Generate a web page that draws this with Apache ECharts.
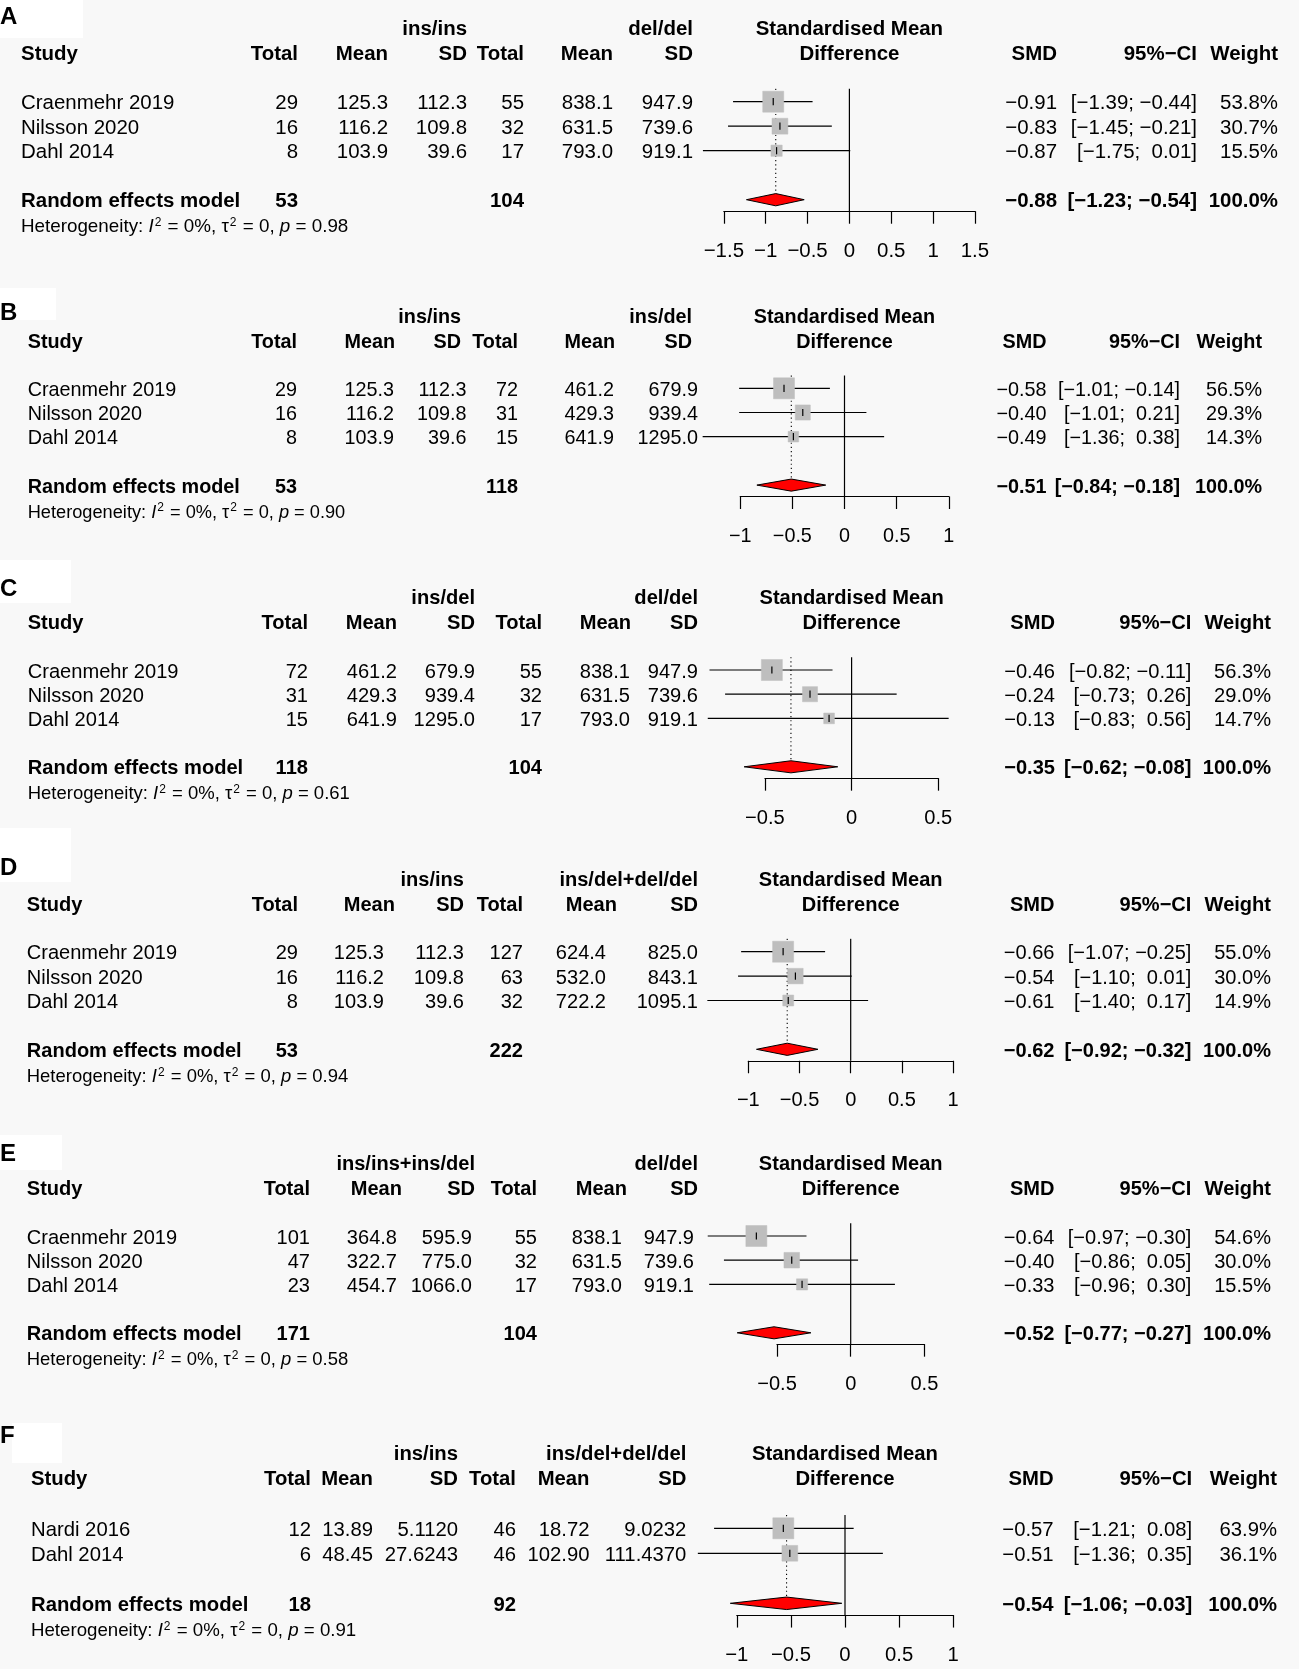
<!DOCTYPE html>
<html>
<head>
<meta charset="utf-8">
<script src="https://cdn.jsdelivr.net/npm/echarts@6/dist/echarts.min.js"></script>
<style>
html,body{margin:0;padding:0;background:#f8f8f8;}
#c{width:1299px;height:1669px;}
</style>
</head>
<body>
<div id="c"></div>
<script>
// ---------------- DATA ----------------
const studies3 = ['Craenmehr 2019', 'Nilsson 2020', 'Dahl 2014'];
const studiesF = ['Nardi 2016', 'Dahl 2014'];

// Panel A
const aExpLabel = 'ins/ins', aCtlLabel = 'del/del';
const aExpTotal = [29, 16, 8], aExpMean = ['125.3', '116.2', '103.9'], aExpSD = ['112.3', '109.8', '39.6'];
const aCtlTotal = [55, 32, 17], aCtlMean = ['838.1', '631.5', '793.0'], aCtlSD = ['947.9', '739.6', '919.1'];
const aSMD = [-0.91, -0.83, -0.87], aLower = [-1.39, -1.45, -1.75], aUpper = [-0.44, -0.21, 0.01];
const aWeight = [53.8, 30.7, 15.5];
const aPooled = [-0.88, -1.23, -0.54], aPooledN = [53, 104], aHetP = '0.98';
const aTicks = [-1.5, -1, -0.5, 0, 0.5, 1, 1.5];

// Panel B
const bExpLabel = 'ins/ins', bCtlLabel = 'ins/del';
const bExpTotal = [29, 16, 8], bExpMean = ['125.3', '116.2', '103.9'], bExpSD = ['112.3', '109.8', '39.6'];
const bCtlTotal = [72, 31, 15], bCtlMean = ['461.2', '429.3', '641.9'], bCtlSD = ['679.9', '939.4', '1295.0'];
const bSMD = [-0.58, -0.40, -0.49], bLower = [-1.01, -1.01, -1.36], bUpper = [-0.14, 0.21, 0.38];
const bWeight = [56.5, 29.3, 14.3];
const bPooled = [-0.51, -0.84, -0.18], bPooledN = [53, 118], bHetP = '0.90';
const bTicks = [-1, -0.5, 0, 0.5, 1];

// Panel C
const cExpLabel = 'ins/del', cCtlLabel = 'del/del';
const cExpTotal = [72, 31, 15], cExpMean = ['461.2', '429.3', '641.9'], cExpSD = ['679.9', '939.4', '1295.0'];
const cCtlTotal = [55, 32, 17], cCtlMean = ['838.1', '631.5', '793.0'], cCtlSD = ['947.9', '739.6', '919.1'];
const cSMD = [-0.46, -0.24, -0.13], cLower = [-0.82, -0.73, -0.83], cUpper = [-0.11, 0.26, 0.56];
const cWeight = [56.3, 29.0, 14.7];
const cPooled = [-0.35, -0.62, -0.08], cPooledN = [118, 104], cHetP = '0.61';
const cTicks = [-0.5, 0, 0.5];

// Panel D
const dExpLabel = 'ins/ins', dCtlLabel = 'ins/del+del/del';
const dExpTotal = [29, 16, 8], dExpMean = ['125.3', '116.2', '103.9'], dExpSD = ['112.3', '109.8', '39.6'];
const dCtlTotal = [127, 63, 32], dCtlMean = ['624.4', '532.0', '722.2'], dCtlSD = ['825.0', '843.1', '1095.1'];
const dSMD = [-0.66, -0.54, -0.61], dLower = [-1.07, -1.10, -1.40], dUpper = [-0.25, 0.01, 0.17];
const dWeight = [55.0, 30.0, 14.9];
const dPooled = [-0.62, -0.92, -0.32], dPooledN = [53, 222], dHetP = '0.94';
const dTicks = [-1, -0.5, 0, 0.5, 1];

// Panel E
const eExpLabel = 'ins/ins+ins/del', eCtlLabel = 'del/del';
const eExpTotal = [101, 47, 23], eExpMean = ['364.8', '322.7', '454.7'], eExpSD = ['595.9', '775.0', '1066.0'];
const eCtlTotal = [55, 32, 17], eCtlMean = ['838.1', '631.5', '793.0'], eCtlSD = ['947.9', '739.6', '919.1'];
const eSMD = [-0.64, -0.40, -0.33], eLower = [-0.97, -0.86, -0.96], eUpper = [-0.30, 0.05, 0.30];
const eWeight = [54.6, 30.0, 15.5];
const ePooled = [-0.52, -0.77, -0.27], ePooledN = [171, 104], eHetP = '0.58';
const eTicks = [-0.5, 0, 0.5];

// Panel F
const fExpLabel = 'ins/ins', fCtlLabel = 'ins/del+del/del';
const fExpTotal = [12, 6], fExpMean = ['13.89', '48.45'], fExpSD = ['5.1120', '27.6243'];
const fCtlTotal = [46, 46], fCtlMean = ['18.72', '102.90'], fCtlSD = ['9.0232', '111.4370'];
const fSMD = [-0.57, -0.51], fLower = [-1.21, -1.36], fUpper = [0.08, 0.35];
const fWeight = [63.9, 36.1];
const fPooled = [-0.54, -1.06, -0.03], fPooledN = [18, 92], fHetP = '0.91';
const fTicks = [-1, -0.5, 0, 0.5, 1];

const panels = [
  {letter:'A', studies:studies3, expLabel:aExpLabel, ctlLabel:aCtlLabel, expTotal:aExpTotal, expMean:aExpMean, expSD:aExpSD, ctlTotal:aCtlTotal, ctlMean:aCtlMean, ctlSD:aCtlSD, smd:aSMD, lower:aLower, upper:aUpper, weight:aWeight, pooled:aPooled, pooledN:aPooledN, hetP:aHetP, ticks:aTicks},
  {letter:'B', studies:studies3, expLabel:bExpLabel, ctlLabel:bCtlLabel, expTotal:bExpTotal, expMean:bExpMean, expSD:bExpSD, ctlTotal:bCtlTotal, ctlMean:bCtlMean, ctlSD:bCtlSD, smd:bSMD, lower:bLower, upper:bUpper, weight:bWeight, pooled:bPooled, pooledN:bPooledN, hetP:bHetP, ticks:bTicks},
  {letter:'C', studies:studies3, expLabel:cExpLabel, ctlLabel:cCtlLabel, expTotal:cExpTotal, expMean:cExpMean, expSD:cExpSD, ctlTotal:cCtlTotal, ctlMean:cCtlMean, ctlSD:cCtlSD, smd:cSMD, lower:cLower, upper:cUpper, weight:cWeight, pooled:cPooled, pooledN:cPooledN, hetP:cHetP, ticks:cTicks},
  {letter:'D', studies:studies3, expLabel:dExpLabel, ctlLabel:dCtlLabel, expTotal:dExpTotal, expMean:dExpMean, expSD:dExpSD, ctlTotal:dCtlTotal, ctlMean:dCtlMean, ctlSD:dCtlSD, smd:dSMD, lower:dLower, upper:dUpper, weight:dWeight, pooled:dPooled, pooledN:dPooledN, hetP:dHetP, ticks:dTicks},
  {letter:'E', studies:studies3, expLabel:eExpLabel, ctlLabel:eCtlLabel, expTotal:eExpTotal, expMean:eExpMean, expSD:eExpSD, ctlTotal:eCtlTotal, ctlMean:eCtlMean, ctlSD:eCtlSD, smd:eSMD, lower:eLower, upper:eUpper, weight:eWeight, pooled:ePooled, pooledN:ePooledN, hetP:eHetP, ticks:eTicks},
  {letter:'F', studies:studiesF, expLabel:fExpLabel, ctlLabel:fCtlLabel, expTotal:fExpTotal, expMean:fExpMean, expSD:fExpSD, ctlTotal:fCtlTotal, ctlMean:fCtlMean, ctlSD:fCtlSD, smd:fSMD, lower:fLower, upper:fUpper, weight:fWeight, pooled:fPooled, pooledN:fPooledN, hetP:fHetP, ticks:fTicks}
];

// ---------------- LAYOUT (positions only) ----------------
const layout = [
  {fs:20.45, h2:52.3, row1:101.7, step:24.5, cols:[298,388,467,524,613,693], hcols:[298,388,467,524,613,693], studyX:21, smdX:1057, ciX:1197, wX:1278, zero:849.4, ppu:83.7, letterY:16, box:[0,0,83,38]},
  {fs:19.8, h2:341, row1:388.3, step:24.2, cols:[297,394,466.5,518,614,698], hcols:[297,395,461,518,615,692], studyX:27.7, smdX:1046.5, ciX:1180, wX:1262, zero:844.5, ppu:104.3, letterY:312, box:[0,288,56,32]},
  {fs:20.1, h2:621.7, row1:670, step:24.2, cols:[308,397,475,542,630,698], hcols:[308,397,475,542,631,698], studyX:27.7, smdX:1055, ciX:1191.4, wX:1271, zero:851.6, ppu:173.3, letterY:588.5, box:[0,560,71,43]},
  {fs:20.05, h2:903.3, row1:951.7, step:24.4, cols:[298,384,464,523,606,698], hcols:[298,395,464,523,617,698], studyX:26.8, smdX:1054.5, ciX:1191.4, wX:1271, zero:850.7, ppu:102.4, letterY:867, box:[0,828,71,54]},
  {fs:20.05, h2:1187.7, row1:1236, step:24.2, cols:[310,397,472,537,622,694], hcols:[310,402,475,537,627,698], studyX:26.8, smdX:1054.5, ciX:1191.4, wX:1271, zero:850.7, ppu:147.4, letterY:1153.5, box:[0,1135,62,35]},
  {fs:20.3, h2:1477.7, row1:1528.3, step:25, cols:[311,373,458,516,589.5,686.4], hcols:[311,373,458,516,589.5,686.4], studyX:31, smdX:1053.6, ciX:1192.2, wX:1277, zero:845, ppu:108.2, letterY:1435, box:[12,1423,50,40]}
];

const FONT = '"Liberation Sans", Arial, Helvetica, sans-serif';
const MINUS = '\u2212';
const DY = 2; // visual baseline correction for text

function fmt2(v){ return (v < 0 ? MINUS : '') + Math.abs(v).toFixed(2); }
function pad2(v){ return v < 0 ? fmt2(v) : ' ' + fmt2(v); }
function ciText(lo, hi){ return '[' + pad2(lo) + '; ' + pad2(hi) + ']'; }
function tickFmt(v){ const r = Math.round(v * 10) / 10; return (r < 0 ? MINUS : '') + String(Math.abs(r)); }

const grids = [], xAxes = [], yAxes = [], series = [], graphics = [];

function txt(x, y, s, align, bold, size){
  const f = (bold ? 'bold ' : '') + size + 'px ' + FONT;
  graphics.push({type:'text', silent:true, z:10, style:{text:s, x:x, y:y, fill:'#000', font:f,
    align:align, verticalAlign:'middle', textAlign:align, textVerticalAlign:'middle'}});
}
function hetText(x, y, p, size){
  const s = '{n|Heterogeneity: }{i|I}{s|2}{n| = 0%, \u03c4}{s|2}{n| = 0, }{i|p}{n| = ' + p + '}';
  graphics.push({type:'text', silent:true, z:10, style:{text:s, x:x, y:y, fill:'#000',
    font: size + 'px ' + FONT, align:'left', verticalAlign:'middle', textAlign:'left', textVerticalAlign:'middle',
    rich:{
      n:{fontSize:size, fontFamily:FONT, fill:'#000'},
      i:{fontSize:size, fontFamily:FONT, fontStyle:'italic', fill:'#000'},
      s:{fontSize:12, fontFamily:FONT, fill:'#000', padding:[0,1,9,1]}
    }}});
}

panels.forEach(function(p, i){
  const L = layout[i];
  const FS = L.fs;
  const k = p.studies.length;
  const ymin = 0.47, ymax = k + 2.47;
  const xmin = p.ticks[0], xmax = p.ticks[p.ticks.length - 1];
  const reRow = k + 2;
  const wmax = Math.max.apply(null, p.weight);

  grids.push({left: L.zero + xmin * L.ppu, top: L.row1 - (1 - ymin) * L.step,
    width: (xmax - xmin) * L.ppu, height: (ymax - ymin) * L.step, containLabel:false, outerBoundsMode:'none'});
  xAxes.push({gridIndex:i, type:'value', min:xmin, max:xmax, interval:0.5, position:'bottom',
    axisLine:{show:true, onZero:false, lineStyle:{color:'#000', width:1.2}},
    axisTick:{show:true, inside:false, length:12.5, lineStyle:{color:'#000', width:1.2}},
    axisLabel:{show:true, margin:30, color:'#000', fontSize:FS, fontFamily:FONT, showMinLabel:true, showMaxLabel:true, formatter:tickFmt, hideOverlap:false},
    splitLine:{show:false}});
  yAxes.push({gridIndex:i, type:'value', min:ymin, max:ymax, inverse:true, show:false, splitLine:{show:false}});

  // line of no effect
  series.push({type:'line', xAxisIndex:i, yAxisIndex:i, data:[[0, ymin], [0, ymax]], symbol:'none', silent:true, z:1,
    lineStyle:{color:'#000', width:1.2}});
  // dotted line at pooled estimate
  series.push({type:'line', xAxisIndex:i, yAxisIndex:i, data:[[p.pooled[0], ymin], [p.pooled[0], reRow - 0.25]], symbol:'none', silent:true, z:1,
    lineStyle:{color:'#000', width:1.1, type:[1.2, 3]}});
  // study estimates
  series.push({type:'custom', xAxisIndex:i, yAxisIndex:i, silent:true, z:2, clip:false,
    data: p.studies.map(function(s, j){ return [p.smd[j], j + 1, p.lower[j], p.upper[j], p.weight[j]]; }),
    renderItem: function(params, api){
      const est = api.value(0), row = api.value(1), lo = api.value(2), hi = api.value(3), w = api.value(4);
      const pL = api.coord([lo, row]), pH = api.coord([hi, row]), pE = api.coord([est, row]);
      const sz = 21 * Math.sqrt(w / wmax);
      return {type:'group', children:[
        {type:'line', shape:{x1:pL[0], y1:pL[1], x2:pH[0], y2:pH[1]}, style:{stroke:'#000', lineWidth:1.2}},
        {type:'rect', shape:{x:pE[0] - sz / 2, y:pE[1] - sz / 2, width:sz, height:sz}, style:{fill:'#bebebe', stroke:'#bebebe', lineWidth:0.5}},
        {type:'line', shape:{x1:pE[0], y1:pE[1] - 3.6, x2:pE[0], y2:pE[1] + 3.6}, style:{stroke:'#000', lineWidth:1.2}}
      ]};
    }});
  // pooled diamond
  series.push({type:'custom', xAxisIndex:i, yAxisIndex:i, silent:true, z:3, clip:false,
    data:[[p.pooled[0], reRow, p.pooled[1], p.pooled[2]]],
    renderItem: function(params, api){
      const est = api.value(0), row = api.value(1), lo = api.value(2), hi = api.value(3);
      const pts = [api.coord([lo, row]), api.coord([est, row - 0.25]), api.coord([hi, row]), api.coord([est, row + 0.25])];
      return {type:'polygon', shape:{points:pts}, style:{fill:'#ff0000', stroke:'#000', lineWidth:1}};
    }});

  // ---------- table text ----------
  graphics.push({type:'rect', silent:true, z:0, shape:{x:L.box[0], y:L.box[1], width:L.box[2], height:L.box[3]}, style:{fill:'#ffffff'}});
  txt(0, L.letterY + 1, p.letter, 'left', true, 24);

  const h1 = L.h2 - 25 + DY, h2 = L.h2 + DY;
  const centerX = L.zero + (xmin + xmax) / 2 * L.ppu;
  txt(L.hcols[2], h1, p.expLabel, 'right', true, FS);
  txt(L.hcols[5], h1, p.ctlLabel, 'right', true, FS);
  txt(centerX, h1, 'Standardised Mean', 'center', true, FS);
  txt(L.studyX, h2, 'Study', 'left', true, FS);
  ['Total', 'Mean', 'SD', 'Total', 'Mean', 'SD'].forEach(function(h, c){ txt(L.hcols[c], h2, h, 'right', true, FS); });
  txt(centerX, h2, 'Difference', 'center', true, FS);
  txt(L.smdX, h2, 'SMD', 'right', true, FS);
  txt(L.ciX, h2, '95%' + MINUS + 'CI', 'right', true, FS);
  txt(L.wX, h2, 'Weight', 'right', true, FS);

  p.studies.forEach(function(s, j){
    const y = L.row1 + j * L.step + DY;
    txt(L.studyX, y, s, 'left', false, FS);
    const vals = [String(p.expTotal[j]), p.expMean[j], p.expSD[j], String(p.ctlTotal[j]), p.ctlMean[j], p.ctlSD[j]];
    vals.forEach(function(v, c){ txt(L.cols[c], y, v, 'right', false, FS); });
    txt(L.smdX, y, fmt2(p.smd[j]), 'right', false, FS);
    txt(L.ciX, y, ciText(p.lower[j], p.upper[j]), 'right', false, FS);
    txt(L.wX, y, p.weight[j].toFixed(1) + '%', 'right', false, FS);
  });
  const yRE = L.row1 + (k + 1) * L.step + DY;
  txt(L.studyX, yRE, 'Random effects model', 'left', true, FS);
  txt(L.cols[0], yRE, String(p.pooledN[0]), 'right', true, FS);
  txt(L.cols[3], yRE, String(p.pooledN[1]), 'right', true, FS);
  txt(L.smdX, yRE, fmt2(p.pooled[0]), 'right', true, FS);
  txt(L.ciX, yRE, ciText(p.pooled[1], p.pooled[2]), 'right', true, FS);
  txt(L.wX, yRE, '100.0%', 'right', true, FS);
  hetText(L.studyX, yRE + 25.5, p.hetP, +(FS * 0.92).toFixed(2));
});

const chart = echarts.init(document.getElementById('c'), null, {renderer:'canvas', width:1299, height:1669});
chart.setOption({
  animation:false,
  backgroundColor:'#f8f8f8',
  grid:grids, xAxis:xAxes, yAxis:yAxes, series:series,
  graphic:{elements:graphics}
});
</script>
</body>
</html>
